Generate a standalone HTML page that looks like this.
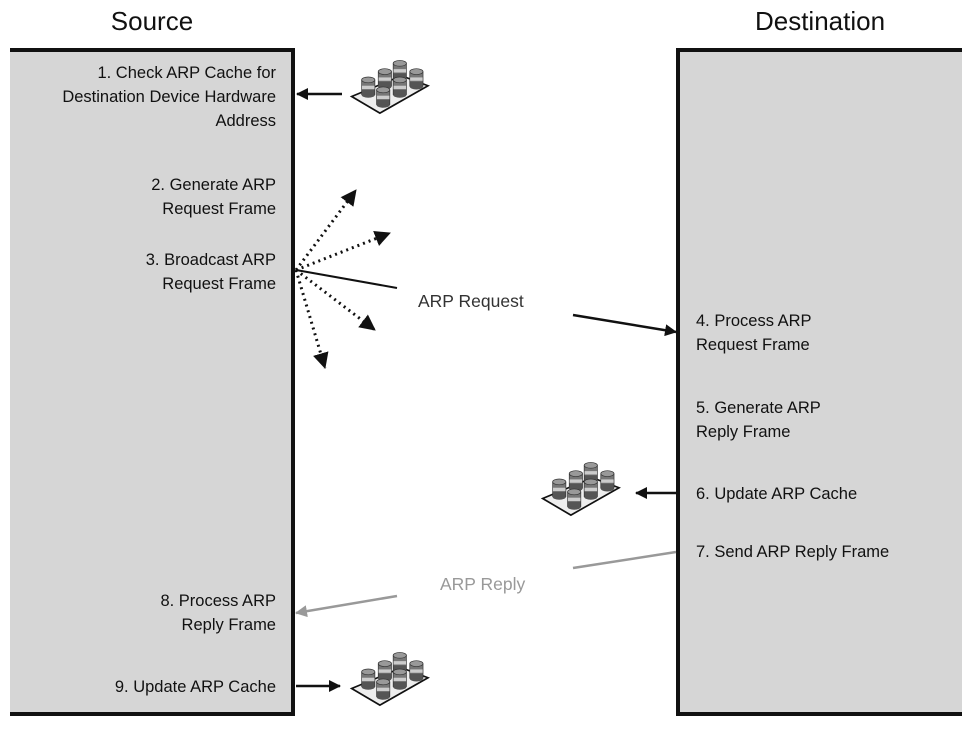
<!DOCTYPE html>
<html><head><meta charset="utf-8">
<style>
html,body{margin:0;padding:0;background:#fff;}
body{width:977px;height:738px;overflow:hidden;}
svg text{font-family:"Liberation Sans",sans-serif;}
</style></head><body>
<svg width="977" height="738" viewBox="0 0 977 738" xmlns="http://www.w3.org/2000/svg">
<defs>
<marker id="ah" markerWidth="12" markerHeight="12" refX="11" refY="6" orient="auto" markerUnits="userSpaceOnUse">
<path d="M0,0 L12,6 L0,12 z" fill="#111"/></marker>
<marker id="ahd" markerWidth="16" markerHeight="16" refX="15" refY="8" orient="auto" markerUnits="userSpaceOnUse">
<path d="M0,0 L16,8 L0,16 z" fill="#111"/></marker>
<marker id="ahg" markerWidth="12" markerHeight="12" refX="11" refY="6" orient="auto" markerUnits="userSpaceOnUse"><path d="M0,0 L12,6 L0,12 z" fill="#999"/></marker>
<g id="cyl">
<rect x="-8" y="-8" width="16" height="18" fill="#777"/>
<rect x="-8" y="-1" width="16" height="4" fill="#ccc"/>
<ellipse cx="0" cy="10" rx="8" ry="3.5" fill="#555"/>
<rect x="-8" y="4" width="16" height="6" fill="#555"/>
<ellipse cx="0" cy="-8" rx="8" ry="3.5" fill="#999" stroke="#333" stroke-width="0.8"/>
<path d="M-8,-8 V10 M8,-8 V10" stroke="#333" stroke-width="0.8"/>
</g>
<g id="cache">
<path d="M2,44 L36,64 L94,31 L62,19 z" fill="#eee" stroke="#111" stroke-width="2"/>
<use href="#cyl" x="60" y="12"/>
<use href="#cyl" x="42" y="22"/>
<use href="#cyl" x="80" y="22"/>
<use href="#cyl" x="22" y="32"/>
<use href="#cyl" x="60" y="32"/>
<use href="#cyl" x="40" y="44"/>
</g>
</defs>
<text x="152" y="30" font-size="26" text-anchor="middle" fill="#111">Source</text>
<text x="820" y="30" font-size="26" text-anchor="middle" fill="#111">Destination</text>
<rect x="10" y="50" width="283" height="664" fill="#d6d6d6"/>
<path d="M10,50 H293 V714 H10" fill="none" stroke="#111" stroke-width="4"/>
<rect x="678" y="50" width="284" height="664" fill="#d6d6d6"/>
<path d="M962,50 H678 V714 H962" fill="none" stroke="#111" stroke-width="4"/>
<g font-size="16.5" fill="#111" text-anchor="end">
<text x="276" y="78">1. Check ARP Cache for</text>
<text x="276" y="102">Destination Device Hardware</text>
<text x="276" y="126">Address</text>
<text x="276" y="190">2. Generate ARP</text>
<text x="276" y="214">Request Frame</text>
<text x="276" y="265">3. Broadcast ARP</text>
<text x="276" y="289">Request Frame</text>
<text x="276" y="606">8. Process ARP</text>
<text x="276" y="630">Reply Frame</text>
<text x="276" y="692">9. Update ARP Cache</text>
</g>
<g font-size="16.5" fill="#111">
<text x="696" y="326">4. Process ARP</text>
<text x="696" y="350">Request Frame</text>
<text x="696" y="413">5. Generate ARP</text>
<text x="696" y="437">Reply Frame</text>
<text x="696" y="499">6. Update ARP Cache</text>
<text x="696" y="557">7. Send ARP Reply Frame</text>
</g>
<text x="418" y="307" font-size="17.5" fill="#333">ARP Request</text>
<text x="440" y="590" font-size="17.5" fill="#999">ARP Reply</text>
<line x1="342" y1="94" x2="297" y2="94" stroke="#111" stroke-width="2.5" marker-end="url(#ah)"/>
<use href="#cache" transform="translate(350,60) scale(0.83)"/>
<g stroke="#111" stroke-width="3" stroke-dasharray="2,4" marker-end="url(#ahd)">
<line x1="296" y1="270" x2="356" y2="190"/>
<line x1="296" y1="270" x2="390" y2="233"/>
<line x1="296" y1="270" x2="375" y2="330"/>
<line x1="296" y1="270" x2="325" y2="368"/>
</g>
<line x1="296" y1="270" x2="397" y2="288" stroke="#111" stroke-width="2"/>
<line x1="573" y1="315" x2="676" y2="332" stroke="#111" stroke-width="2.5" marker-end="url(#ah)"/>
<line x1="676" y1="493" x2="636" y2="493" stroke="#111" stroke-width="2.5" marker-end="url(#ah)"/>
<use href="#cache" transform="translate(541,462) scale(0.83)"/>
<line x1="676" y1="552" x2="573" y2="568" stroke="#999" stroke-width="2.5"/>
<line x1="397" y1="596" x2="296" y2="613" stroke="#999" stroke-width="2.5" marker-end="url(#ahg)"/>
<line x1="296" y1="686" x2="340" y2="686" stroke="#111" stroke-width="2.5" marker-end="url(#ah)"/>
<use href="#cache" transform="translate(350,652) scale(0.83)"/>
</svg>
</body></html>
